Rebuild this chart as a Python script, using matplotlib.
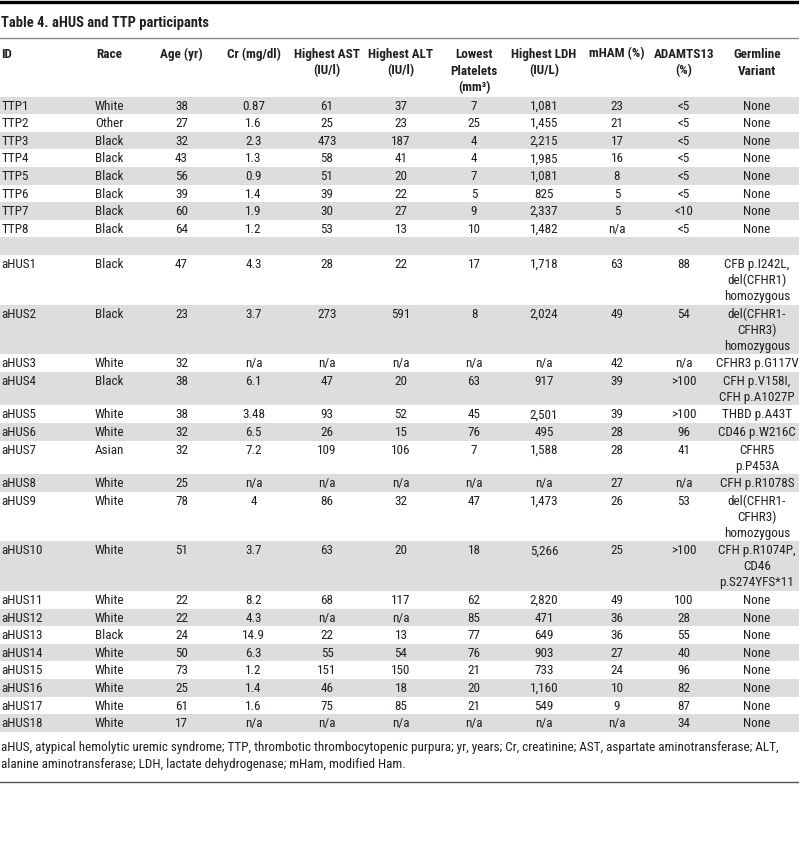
import matplotlib
matplotlib.use("Agg")
import matplotlib.pyplot as plt
from matplotlib import font_manager

# ---------------- data ----------------
title = "Table 4. aHUS and TTP participants"
headers = ["ID", "Race", "Age (yr)", "Cr (mg/dl)", "Highest AST\n(IU/l)", "Highest ALT\n(IU/l)",
           "Lowest\nPlatelets\n(mm³)", "Highest LDH\n(IU/L)", "mHAM (%)", "ADAMTS13\n(%)",
           "Germline\nVariant"]

ids = ["TTP1", "TTP2", "TTP3", "TTP4", "TTP5", "TTP6", "TTP7", "TTP8", "",
       "aHUS1", "aHUS2", "aHUS3", "aHUS4", "aHUS5", "aHUS6", "aHUS7", "aHUS8", "aHUS9",
       "aHUS10", "aHUS11", "aHUS12", "aHUS13", "aHUS14", "aHUS15", "aHUS16", "aHUS17", "aHUS18"]
race = ["White", "Other", "Black", "Black", "Black", "Black", "Black", "Black", "",
        "Black", "Black", "White", "Black", "White", "White", "Asian", "White", "White",
        "White", "White", "White", "Black", "White", "White", "White", "White", "White"]
age = ["38", "27", "32", "43", "56", "39", "60", "64", "",
       "47", "23", "32", "38", "38", "32", "32", "25", "78",
       "51", "22", "22", "24", "50", "73", "25", "61", "17"]
cr = ["0.87", "1.6", "2.3", "1.3", "0.9", "1.4", "1.9", "1.2", "",
      "4.3", "3.7", "n/a", "6.1", "3.48", "6.5", "7.2", "n/a", "4",
      "3.7", "8.2", "4.3", "14.9", "6.3", "1.2", "1.4", "1.6", "n/a"]
ast = ["61", "25", "473", "58", "51", "39", "30", "53", "",
       "28", "273", "n/a", "47", "93", "26", "109", "n/a", "86",
       "63", "68", "n/a", "22", "55", "151", "46", "75", "n/a"]
alt = ["37", "23", "187", "41", "20", "22", "27", "13", "",
       "22", "591", "n/a", "20", "52", "15", "106", "n/a", "32",
       "20", "117", "n/a", "13", "54", "150", "18", "85", "n/a"]
platelets = ["7", "25", "4", "4", "7", "5", "9", "10", "",
             "17", "8", "n/a", "63", "45", "76", "7", "n/a", "47",
             "18", "62", "85", "77", "76", "21", "20", "21", "n/a"]
ldh = ["1,081", "1,455", "2,215", "1,985", "1,081", "825", "2,337", "1,482", "",
       "1,718", "2,024", "n/a", "917", "2,501", "495", "1,588", "n/a", "1,473",
       "5,266", "2,820", "471", "649", "903", "733", "1,160", "549", "n/a"]
mham = ["23", "21", "17", "16", "8", "5", "5", "n/a", "",
        "63", "49", "42", "39", "39", "28", "28", "27", "26",
        "25", "49", "36", "36", "27", "24", "10", "9", "n/a"]
adamts13 = ["<5", "<5", "<5", "<5", "<5", "<5", "<10", "<5", "",
            "88", "54", "n/a", ">100", ">100", "96", "41", "n/a", "53",
            ">100", "100", "28", "55", "40", "96", "82", "87", "34"]
variant = ["None"] * 8 + [""] + [
    "CFB p.I242L,\ndel(CFHR1)\nhomozygous",
    "del(CFHR1-\nCFHR3)\nhomozygous",
    "CFHR3 p.G117V",
    "CFH p.V158I,\nCFH p.A1027P",
    "THBD p.A43T",
    "CD46 p.W216C",
    "CFHR5\np.P453A",
    "CFH p.R1078S",
    "del(CFHR1-\nCFHR3)\nhomozygous",
    "CFH p.R1074P,\nCD46\np.S274YFS*11",
    "None", "None", "None", "None", "None", "None", "None", "None"]
footnote = ["aHUS, atypical hemolytic uremic syndrome; TTP, thrombotic thrombocytopenic purpura; yr, years; Cr, creatinine; AST, aspartate aminotransferase; ALT,",
            "alanine aminotransferase; LDH, lactate dehydrogenase; mHam, modified Ham."]

columns = [ids, race, age, cr, ast, alt, platelets, ldh, mham, adamts13, variant]

# ---------------- font choice ----------------
entries = font_manager.fontManager.ttflist
names = {f.name for f in entries}
stretch = 'normal'
fam = None
for cand in ["Liberation Sans Narrow", "Roboto Condensed", "Open Sans Condensed", "DejaVu Sans Condensed"]:
    if cand in names:
        fam = cand
        break
if fam is None:
    for cand in ["Noto Sans", "Open Sans", "Roboto"]:
        cond = [f for f in entries if f.name == cand and str(f.stretch) in ('condensed', 'semi-condensed', '300', '400')]
        if cond:
            fam, stretch = cand, cond[0].stretch
            break
if fam is None:
    fam = "Roboto"
plt.rcParams['font.family'] = [fam, 'DejaVu Sans']
plt.rcParams['font.stretch'] = stretch

W, H = 799, 850
fig = plt.figure(figsize=(W / 100, H / 100), dpi=100)
ax = fig.add_axes([0, 0, 1, 1])
ax.set_xlim(0, W)
ax.set_ylim(H, 0)
ax.axis('off')

txt = '#231f20'
shade = '#dcdddf'

# fit font size so the footnote line has the reference width (~771 px)
renderer = fig.canvas.get_renderer()
probe = ax.text(0, 0, footnote[0], fontsize=10)
wpx = probe.get_window_extent(renderer).width
probe.remove()
fs = min(10 * 770 / wpx, 9.6)
probe = ax.text(0, 0, title, fontsize=10, fontweight='bold')
wpx = probe.get_window_extent(renderer).width
probe.remove()
fs_title = min(10 * 208 / wpx, 11.0)

col_x = [1.5, 109.5, 181.5, 253.5, 327, 401, 474, 544, 617, 684, 757]
col_ha = ['left'] + ['center'] * 10

# top rule
ax.axhline(1.6, color='black', lw=3.3 * 72 / 100)
ax.text(1.0, 22.5, title, fontsize=fs_title, fontweight='bold', color=txt, va='center', ha='left')
ax.axhline(38.3, color='#8a8a8a', lw=1.4 * 72 / 100)

# header
for x, ha, h in zip(col_x, col_ha, headers):
    for k, line in enumerate(h.split('\n')):
        ax.text(x, 54 + 17 * k, line, fontsize=fs, fontweight='bold', color=txt, va='center', ha=ha)

# body
row_h, extra = 17.6, 16.0
y = 96.5
for i in range(len(ids)):
    nlines = max(len(c[i].split('\n')) for c in columns)
    h = row_h + extra * (nlines - 1)
    if i % 2 == 0:
        ax.fill_between([0, W], y, y + h, color=shade, lw=0)
    for x, ha, c in zip(col_x, col_ha, columns):
        for k, line in enumerate(c[i].split('\n')):
            ax.text(x, y + 9.6 + extra * k, line, fontsize=fs, color=txt, va='center', ha=ha)
    y += h

# footnote
for k, line in enumerate(footnote):
    ax.text(1, 747.5 + 17.3 * k, line, fontsize=fs, color=txt, va='center', ha='left')
ax.axhline(781.8, color='#555555', lw=1.4 * 72 / 100)

fig.savefig('out.png', dpi=100)
